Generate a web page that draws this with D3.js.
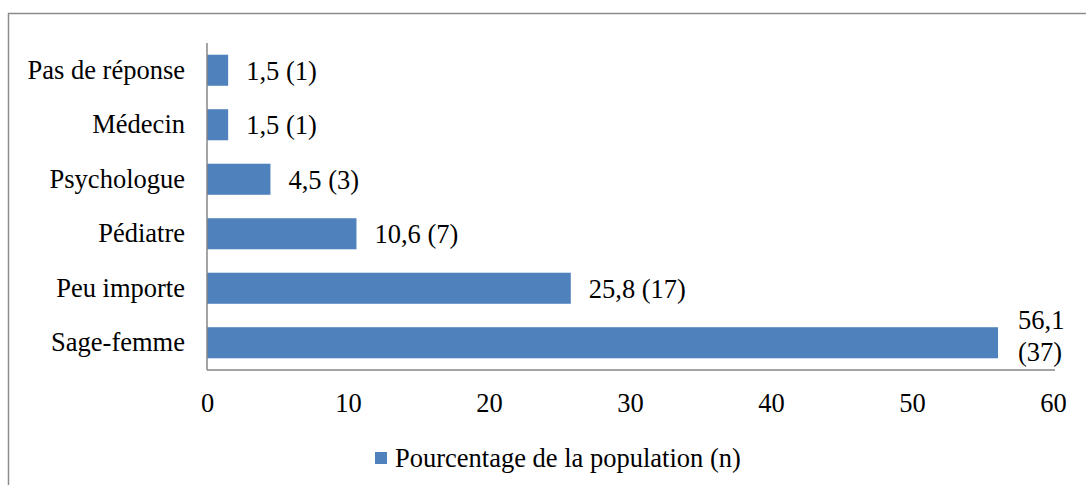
<!DOCTYPE html>
<html>
<head>
<meta charset="utf-8">
<script src="https://cdn.jsdelivr.net/npm/d3@7"></script>
<style>
	body { margin: 0; background: #fff; }
	svg { display: block; font-family: "Liberation Serif", "DejaVu Serif", serif; }
</style>
</head>
<body>
<svg id="chart" width="1086" height="485"></svg>
<script>
// Répartition : interlocuteur souhaité (pourcentage de la population, effectif n)
const categories = ["Pas de réponse", "Médecin", "Psychologue", "Pédiatre", "Peu importe", "Sage-femme"];
const percents = [1.5, 1.5, 4.5, 10.6, 25.8, 56.1];
const counts = [1, 1, 3, 7, 17, 37];
const xTicks = [0, 10, 20, 30, 40, 50, 60];
const seriesName = "Pourcentage de la population (n)";

const COLORS = {
	bar: "#4f81bd",
	axis: "#868686",
	frame: "#8c8c8c",
	text: "#000000",
};
const FONT_SIZE = 26.5;

const svg = d3.select("#chart");

// cadre extérieur (coupé à droite et en bas, comme sur l'original)
svg.append("path")
	.attr("d", "M8.5,490 V13.5 H1090")
	.attr("fill", "none")
	.attr("stroke", COLORS.frame)
	.attr("stroke-width", 1.5);

const x = d3.scaleLinear().domain([0, 60]).range([207, 1053]);
const y = d3.scaleBand().domain(categories).range([43, 370]).paddingInner(0.43).paddingOuter(0.215);

const rows = categories.map((c, i) => ({ cat: c, pct: percents[i], n: counts[i] }));

// barres
svg.append("g").selectAll("rect")
	.data(rows)
	.join("rect")
	.attr("x", x(0))
	.attr("y", d => y(d.cat))
	.attr("width", d => x(d.pct) - x(0))
	.attr("height", y.bandwidth())
	.attr("fill", COLORS.bar);

// axe horizontal
const xAxis = svg.append("g")
	.attr("transform", "translate(0,370)")
	.call(d3.axisBottom(x).tickValues(xTicks).tickSize(0).tickPadding(23).tickFormat(d3.format("d")))
	.attr("font-family", null)
	.attr("font-size", FONT_SIZE);
xAxis.select(".domain").attr("stroke", COLORS.axis).attr("stroke-width", 1.5).attr("d", "M207,0H1055");
xAxis.selectAll(".tick text").attr("fill", COLORS.text);

// axe vertical
const yAxis = svg.append("g")
	.attr("transform", "translate(207,0)")
	.call(d3.axisLeft(y).tickSize(0).tickPadding(22))
	.attr("font-family", null)
	.attr("font-size", FONT_SIZE);
yAxis.select(".domain").attr("stroke", COLORS.axis).attr("stroke-width", 1.5).attr("d", "M0,43V370");
yAxis.selectAll(".tick text").attr("fill", COLORS.text);

// étiquettes de données
const fmt = v => String(v).replace(".", ",");
const labels = svg.append("g")
	.attr("font-size", FONT_SIZE)
	.attr("fill", COLORS.text);
rows.forEach(d => {
	const cy = y(d.cat) + y.bandwidth() / 2;
	if (d.pct > 50) {
		// étiquette sur deux lignes pour la plus grande barre
		const t = labels.append("text").attr("y", cy - 14);
		t.append("tspan").attr("x", x(d.pct) + 20).text(fmt(d.pct));
		t.append("tspan").attr("x", x(d.pct) + 20).attr("dy", 32).text("(" + d.n + ")");
	} else {
		labels.append("text")
			.attr("x", x(d.pct) + 18)
			.attr("y", cy)
			.attr("dy", "0.35em")
			.text(fmt(d.pct) + " (" + d.n + ")");
	}
});

// légende
const legend = svg.append("g").attr("transform", "translate(375,452)");
legend.append("rect").attr("width", 12).attr("height", 12).attr("fill", COLORS.bar);
legend.append("text")
	.attr("x", 20).attr("y", 6).attr("dy", "0.35em")
	.attr("font-size", FONT_SIZE).attr("fill", COLORS.text)
	.text(seriesName);
</script>
</body>
</html>
